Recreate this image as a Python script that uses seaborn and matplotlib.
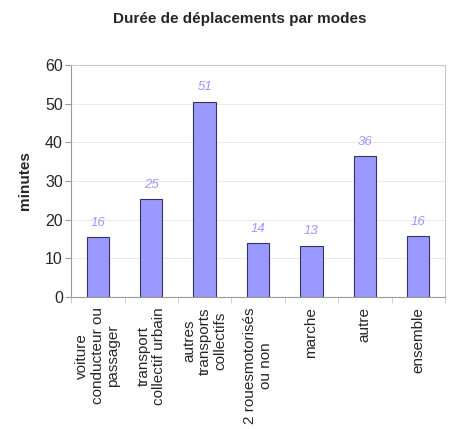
import matplotlib
matplotlib.use("Agg")
import matplotlib.pyplot as plt
import seaborn as sns
import pandas as pd

# données
modes = ["voiture\nconducteur ou\npassager", "transport\ncollectif urbain",
         "autres\ntransports\ncollectifs", "2 rouesmotorisés\nou non",
         "marche", "autre", "ensemble"]
minutes = [15.5, 25.3, 50.6, 13.9, 13.2, 36.4, 15.7]
etiquettes = ["16", "25", "51", "14", "13", "36", "16"]

df = pd.DataFrame({"mode": modes, "minutes": minutes})

sns.set_style("white")
plt.rcParams["font.family"] = ["Liberation Sans", "DejaVu Sans"]

fig = plt.figure(figsize=(4.62, 4.29), dpi=100)
ax = fig.add_axes([0.154, 0.308, 0.809, 0.54])

sns.barplot(data=df, x="mode", y="minutes", color="#9999FF", width=0.42,
            edgecolor="#333366", linewidth=0.8, saturation=1, ax=ax)

for i, (v, t) in enumerate(zip(minutes, etiquettes)):
    ax.text(i, v + 2.2, t, ha="center", va="bottom", fontsize=9.5,
            style="italic", color="#9999FF")

ax.set_ylim(0, 60)
ax.set_yticks(range(0, 61, 10))
ax.set_xlim(-0.5, len(modes) - 0.5)
ax.yaxis.grid(True, color="#e6e6e6", linewidth=0.6)
ax.set_axisbelow(True)

for s in ax.spines.values():
    s.set_color("#c8c8c8")
    s.set_linewidth(0.8)
ax.spines["left"].set_color("#999999")
ax.spines["bottom"].set_color("#999999")

ax.tick_params(axis="y", left=True, length=4, color="#999999", labelsize=11.5, pad=2)
ax.set_xticks(range(len(modes)))
ax.set_xticklabels(modes, rotation=90, fontsize=11, linespacing=1.15, va="top", ha="center")
ax.tick_params(axis="x", bottom=False, pad=4)
# petites graduations aux limites des catégories
ax.set_xticks([i - 0.5 for i in range(len(modes) + 1)], minor=True)
ax.tick_params(axis="x", which="minor", bottom=True, length=4, color="#c8c8c8")

ax.set_xlabel("")
ax.set_ylabel("minutes", fontsize=11, fontweight="bold", labelpad=9)
fig.text(0.52, 0.955, "Durée de déplacements par modes", ha="center", va="center",
         fontsize=11, fontweight="bold")

fig.savefig("out.png", dpi=100)
